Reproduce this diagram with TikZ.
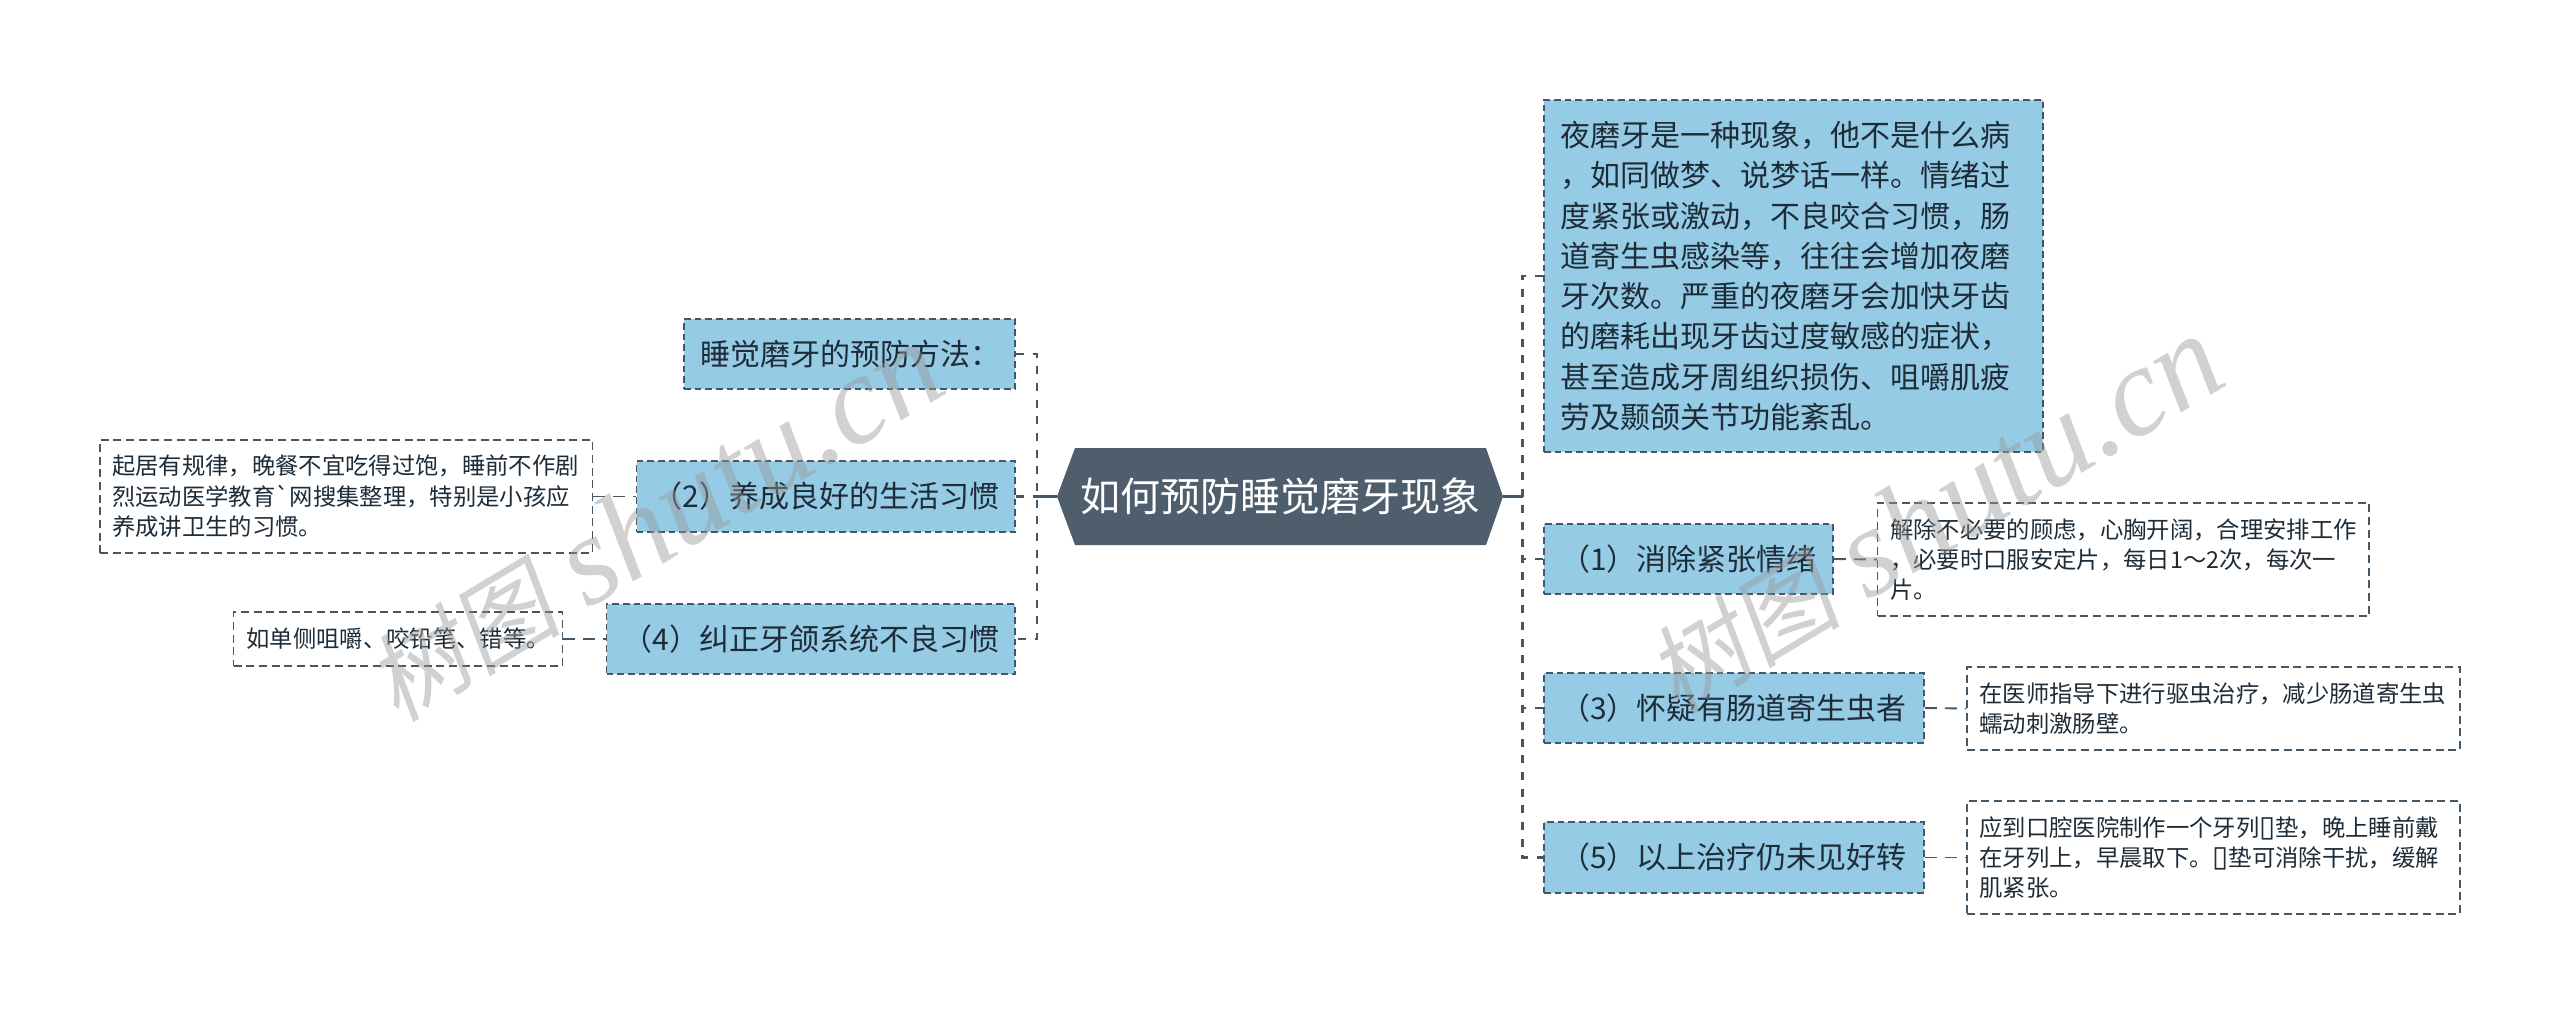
\documentclass[tikz,border=0pt]{standalone}
\usepackage{fontspec}
\setmainfont{Noto Sans CJK SC}
\newfontfamily\wmlat{Liberation Serif}
\newfontfamily\wmcjk{Noto Sans CJK SC}[FakeSlant=0.18]
\newfontfamily\symfont{DejaVu Sans}
\newfontfamily\bqfont{Noto Sans CJK SC}
\definecolor{boxfill}{HTML}{96CBE5}
\definecolor{edgecol}{HTML}{435766}
\definecolor{rootcol}{HTML}{4E5E6D}
\definecolor{inkcol}{HTML}{1E2C38}
\tikzset{
  px/.style={x=0.75pt,y=-0.75pt},
  conn/.style={draw=edgecol,line width=2pt,dash pattern=on 6pt off 6.5pt},
  noteconn/.style={draw=edgecol,line width=1.4pt,dash pattern=on 9pt off 6pt},
  branch/.style={draw=edgecol,line width=1.4pt,dash pattern=on 5pt off 3pt,fill=boxfill,text=inkcol,
    inner sep=0pt,align=left,font=\fontsize{22.5}{30.2}\selectfont},
  note/.style={draw=edgecol,line width=1.1pt,dash pattern=on 6pt off 3.5pt,fill=white,text=inkcol,
    inner sep=0pt,align=left,font=\fontsize{17.5}{22.8}\selectfont},
  rootbox/.style={text=white,inner sep=0pt,font=\fontsize{30}{36}\selectfont},
  wm/.style={text=black!40,opacity=.45,rotate=31,inner sep=0pt},
}
\newcommand{\tofu}{{\symfont\fontsize{22}{22.8}\selectfont ▯}}
\newcommand{\wmtext}{{\wmcjk\fontsize{73}{80}\selectfont 树图}\hspace{20pt}{\wmlat\itshape\fontsize{95}{100}\selectfont shutu.cn}}
\begin{document}
\begin{tikzpicture}[px]
\useasboundingbox (0,0) rectangle (2560,1015);
\fill[white] (0,0) rectangle (2560,1015);
% root
\fill[rootcol] (1075,448) -- (1486,448) -- (1503,496.5) -- (1486,545) -- (1075,545) -- (1057,496.5) -- cycle;
\node[rootbox,minimum width=446*0.75pt,minimum height=97*0.75pt] (root) at (1280,496.5) {如何预防睡觉磨牙现象};
% left branches
\node[branch,minimum width=331*0.75pt,minimum height=70*0.75pt,text width=299*0.75pt] (bp) at (849.5,354) {睡觉磨牙的预防方法：};
\node[branch,minimum width=378.5*0.75pt,minimum height=71*0.75pt,text width=346.5*0.75pt] (b2) at (825.75,496.5) {（2）养成良好的生活习惯};
\node[branch,minimum width=408.5*0.75pt,minimum height=70*0.75pt,text width=376.5*0.75pt] (b4) at (810.75,639) {（4）纠正牙颌系统不良习惯};
\node[note,minimum width=492.5*0.75pt,minimum height=113*0.75pt,text width=468*0.75pt] (n2) at (346.25,496.5) {起居有规律，晚餐不宜吃得过饱，睡前不作剧\\烈运动医学教育{\bqfont`}网搜集整理，特别是小孩应\\养成讲卫生的习惯。};
\node[note,minimum width=329*0.75pt,minimum height=54*0.75pt,text width=303*0.75pt] (n4) at (398,639) {如单侧咀嚼、咬铅笔、错等。};
% right branches
\node[branch,minimum width=499*0.75pt,minimum height=352*0.75pt,text width=467*0.75pt] (big) at (1793.5,276) {夜磨牙是一种现象，他不是什么病\\，如同做梦、说梦话一样。情绪过\\度紧张或激动，不良咬合习惯，肠\\道寄生虫感染等，往往会增加夜磨\\牙次数。严重的夜磨牙会加快牙齿\\的磨耗出现牙齿过度敏感的症状，\\甚至造成牙周组织损伤、咀嚼肌疲\\劳及颞颌关节功能紊乱。};
\node[branch,minimum width=289*0.75pt,minimum height=70*0.75pt,text width=257*0.75pt] (b1) at (1688.5,559) {（1）消除紧张情绪};
\node[branch,minimum width=380*0.75pt,minimum height=70*0.75pt,text width=348*0.75pt] (b3) at (1734,708) {（3）怀疑有肠道寄生虫者};
\node[branch,minimum width=380*0.75pt,minimum height=71*0.75pt,text width=348*0.75pt] (b5) at (1734,857.5) {（5）以上治疗仍未见好转};
\node[note,minimum width=491.5*0.75pt,minimum height=113*0.75pt,text width=466*0.75pt] (n1) at (2123.25,559.5) {解除不必要的顾虑，心胸开阔，合理安排工作\\，必要时口服安定片，每日1～2次，每次一\\片。};
\node[note,minimum width=493*0.75pt,minimum height=83*0.75pt,text width=468*0.75pt] (n3) at (2213.5,708.5) {在医师指导下进行驱虫治疗，减少肠道寄生虫\\蠕动刺激肠壁。};
\node[note,minimum width=493*0.75pt,minimum height=113*0.75pt,text width=468*0.75pt] (n5) at (2213.5,857.5) {应到口腔医院制作一个牙列\tofu 垫，晚上睡前戴\\在牙列上，早晨取下。\tofu 垫可消除干扰，缓解\\肌紧张。};
% junctions
\coordinate (lj) at (1037,496.5);
\coordinate (rj) at (1522.5,496.5);
\draw[edgecol,line width=1.8pt] (root.west) -- (lj);
\draw[edgecol,line width=1.8pt] (root.east) -- (rj);
\draw[conn] (bp.east) -- (bp.east -| lj) -- (b4.east -| lj) -- (b4.east);
\draw[conn] (b2.east) -- (b2.east -| lj);
\draw[conn] (big.west) -- (big.west -| rj) -- (b5.west -| rj) -- (b5.west);
\draw[conn] (b1.west) -- (b1.west -| rj);
\draw[conn] (b3.west) -- (b3.west -| rj);
\draw[noteconn] (n2.east) -- (b2.west);
\draw[noteconn] (n4.east) -- (b4.west);
\draw[noteconn] (b1.east) -- (n1.west);
\draw[noteconn] (b3.east) -- (n3.west);
\draw[noteconn] (b5.east) -- (n5.west);
% watermark
\node[wm] (wa) at (654,523) {\wmtext};
\node[wm] (wb) at (1934,515) {\wmtext};
\end{tikzpicture}
\end{document}
